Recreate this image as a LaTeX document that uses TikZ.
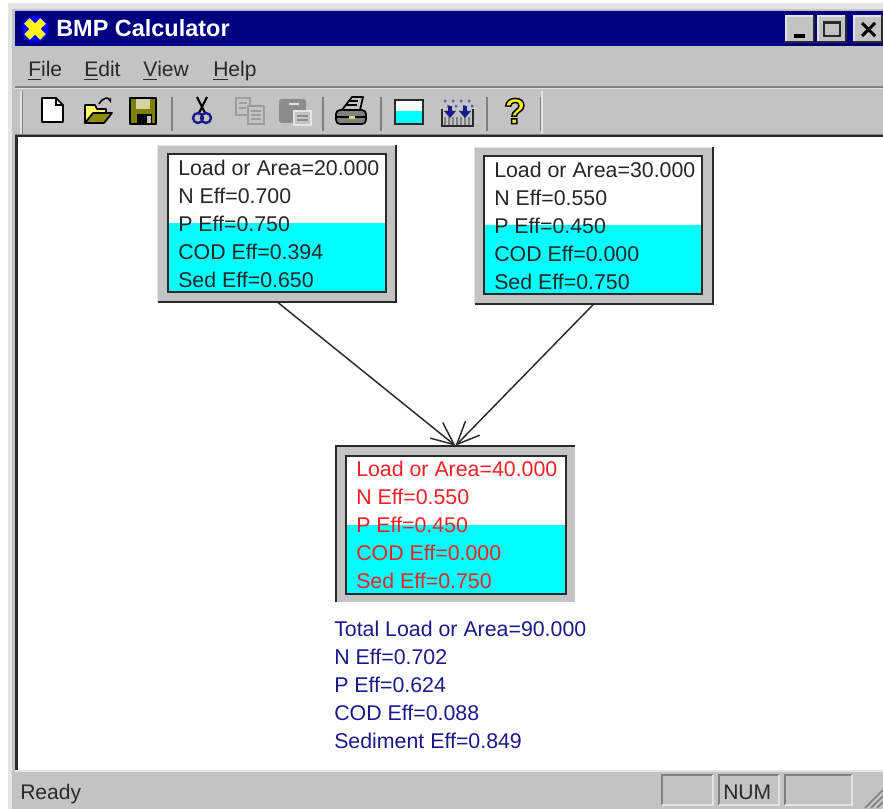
\documentclass[tikz,border=0pt]{standalone}
\usepackage{fontspec}
\setmainfont{Liberation Sans}
\usetikzlibrary{arrows.meta}
\definecolor{wingray}{HTML}{C3C3C3}
\definecolor{winlight}{HTML}{E4E4E4}
\definecolor{windark}{HTML}{808080}
\definecolor{winink}{HTML}{2A2A2A}
\definecolor{navybar}{HTML}{000080}
\definecolor{navytext}{HTML}{1A1A8C}
\definecolor{redtext}{HTML}{F52025}
\definecolor{aqua}{HTML}{00FFFF}
\definecolor{goldicon}{HTML}{FFFF66}
\definecolor{olive}{HTML}{808000}
\definecolor{dimicon}{HTML}{8C8C8C}
\tikzset{
  x=0.75pt,y=-0.75pt,
  lines/.style={anchor=north west,inner sep=0pt,align=left,font=\fontsize{16}{21}\selectfont},
  wintext/.style={anchor=base west,inner sep=0pt,text=winink,font=\fontsize{15.8}{18}\selectfont},
  frame/.style={draw=none,fill=wingray,inner sep=0pt,minimum width=178.5pt,minimum height=117pt},
  sep/.style={draw=windark,line width=1pt},
  link/.style={draw=winink,line width=1.1pt,-{Straight Barb[length=17pt,width=15pt,line width=1.1pt]}},
  winbtn/.style={fill=wingray,draw=none},
  iconline/.style={draw=black,line width=1.3pt,line join=round}
}
\begin{document}
\begin{tikzpicture}
\useasboundingbox (0,0) rectangle (883,809);
% window chrome
\fill[winlight] (8,3) rectangle (883,809);
\fill[wingray] (12,9) rectangle (883,809);
\fill[navybar] (15,11) rectangle (883,46);
\draw[winlight,line width=1pt] (15,88) -- (883,88);
\draw[windark,line width=1pt] (15,87) -- (883,87);
% title bar
\fill[blue] (35,29) circle[radius=13.5];
\draw[yellow!90!white,line width=6pt] (27,21) -- (43,37) (43,21) -- (27,37);
\node[anchor=base west,inner sep=0pt,text=white,font=\bfseries\fontsize{17.6}{20}\selectfont] (title) at (56,37) {BMP Calculator};
% window buttons
\foreach \a/\b in {785/815,817/847,853/883}{
  \fill[winink] (\a,15) rectangle (\b,43);
  \fill[winlight] (\a,15) rectangle (\b-2,41);
  \fill[wingray] (\a+2,17) rectangle (\b-2,41);
}
\draw[black,line width=2.4pt] (794,36) -- (805,36);
\draw[winink,line width=1pt] (824,22) rectangle (840,36);
\draw[winink,line width=2.2pt] (824,23) -- (840,23);
\draw[black,line width=2.2pt] (862,23) -- (875,36) (875,23) -- (862,36);
% menu
\node[wintext] (mfile) at (28,77) {\underline{F}ile};
\node[wintext] (medit) at (84,77) {\underline{E}dit};
\node[wintext] (mview) at (143,77) {\underline{V}iew};
\node[wintext] (mhelp) at (213,77) {\underline{H}elp};
% toolbar
\fill[winlight] (20,91) rectangle (22,134);
\fill[windark] (22,91) rectangle (23,134);
\foreach \x in {172,323,381,487,541}{\draw[sep] (\x,97) -- (\x,131);}
\draw[winlight,line width=1pt] (542,91) -- (542,134);
\draw[windark,line width=1pt] (15,135) -- (883,135);
% new document
\filldraw[fill=white,iconline] (42,98) -- (56,98) -- (63,105) -- (63,122) -- (42,122) -- cycle;
\draw[line width=1pt] (56,98) -- (56,105) -- (63,105);
% open folder
\filldraw[fill=goldicon,iconline] (85,105) -- (95,105) -- (97,109) -- (106,109) -- (106,114) -- (85,123) -- cycle;
\filldraw[fill=olive!90!yellow,iconline] (85,123) -- (93,113) -- (112,113) -- (104,123) -- cycle;
\draw[line width=1.2pt,-{Stealth[length=4pt]}] (99,104) .. controls (103,97) and (109,97) .. (111,103);
% save disk
\filldraw[fill=olive,iconline] (130,98) rectangle (156,124);
\fill[olive!35!white] (136,99) rectangle (150,109);
\fill[black] (137,114) rectangle (152,124);
\fill[wingray] (147,116) rectangle (151,123);
% scissors
\draw[line width=1.6pt,black] (197,97) -- (205,113) (207,97) -- (199,113);
\draw[navytext,line width=1.8pt] (198,118) circle[radius=5] (206,118) circle[radius=5];
% copy (disabled)
\filldraw[fill=wingray,draw=dimicon!70!wingray,line width=1.2pt] (236,98) rectangle (250,115);
\filldraw[fill=wingray,draw=dimicon!70!wingray,line width=1.2pt] (248,106) rectangle (264,124);
\draw[dimicon!70!wingray,line width=1pt] (239,103) -- (247,103) (239,108) -- (246,108) (251,111) -- (261,111) (251,115) -- (261,115) (251,119) -- (261,119);
% paste (disabled)
\fill[dimicon,rounded corners=2pt] (279,99) rectangle (306,123);
\fill[winlight] (289,103) rectangle (299,105);
\filldraw[fill=wingray,draw=winlight,line width=1.2pt] (294,111) rectangle (311,125);
\draw[dimicon,line width=1pt] (297,116) -- (308,116) (297,120) -- (308,120);
% printer
\filldraw[fill=wingray,iconline] (352,97) -- (363,97) -- (360,110) -- (342,110) -- cycle;
\draw[line width=1pt] (348,101) -- (358,101) (346,105) -- (357,105);
\filldraw[fill=windark,iconline,rounded corners=3pt] (336,110) rectangle (366,124);
\draw[line width=1pt] (337,117) -- (365,117);
\fill[goldicon!85!black] (349,116) rectangle (355,119);
% fill box icon
\fill[white] (395,100) rectangle (423,111);
\fill[aqua] (395,111) rectangle (423,124);
\draw[winink,line width=1.4pt] (395,100) rectangle (423,124);
% pour icon
\draw[winink,line width=1.4pt] (442,109) -- (442,126) -- (473,126) -- (473,109);
\foreach \x in {445,449,...,469}{\draw[windark,line width=1pt] (\x,117) -- (\x,125);}
\foreach \x in {444,452,460,468}{\fill[navytext!70!white] (\x,100) rectangle +(2.4,2.4) (\x+3,105) rectangle +(2.4,2.4);}
\foreach \x in {450,465}{
  \fill[navytext] (\x-2,106) rectangle (\x+2,112);
  \fill[navytext] (\x-6,111) -- (\x+6,111) -- (\x,118) -- cycle;
}
% help
\node[inner sep=0pt,text=yellow,font=\bfseries\fontsize{27}{27}\selectfont] (qmark) at (515,111) {\pgfsetlinewidth{1.1pt}\pgfsetstrokecolor{black}\special{pdf:code 2 Tr}?\special{pdf:code 0 Tr}};
% client area
\fill[white] (18,137) rectangle (883,770);
\draw[winink,line width=2.4pt] (16.5,136) -- (16.5,770);
\draw[winink,line width=1.5pt] (15,136.5) -- (883,136.5);
\draw[winlight,line width=1.5pt] (15,771) -- (883,771);
% status bar
\node[wintext] (ready) at (20,799) {Ready};
\foreach \a/\b in {662/713,719/779,785/852}{
  \draw[windark,line width=1pt] (\a,805) -- (\a,775) -- (\b,775);
  \draw[winlight,line width=1pt] (\b,775) -- (\b,805) -- (\a,805);
}
\node[wintext] (numkey) at (723,799) {NUM};
\foreach \d in {0,6,12}{\draw[windark,line width=1.3pt] (865+\d,808) -- (883,790+\d);}
% box 1
\node[frame] (box1) at (277,223.5) {};
\draw[winlight,line width=1pt] (box1.south west) -- (box1.north west) -- (box1.north east);
\draw[winink,line width=1.5pt] (box1.south west) -- (box1.south east) -- (box1.north east);
\fill[white] (168,154) rectangle (386,223);
\fill[aqua] (168,223) rectangle (386,292);
\draw[winink,line width=1.5pt] (168,154) rectangle (386,292);
\node[lines,text=black!85] (text1) at (178,160) {Load or Area=20.000\\N Eff=0.700\\P Eff=0.750\\COD Eff=0.394\\Sed Eff=0.650};
% box 2
\node[frame] (box2) at (594,225.5) {};
\draw[winlight,line width=1pt] (box2.south west) -- (box2.north west) -- (box2.north east);
\draw[winink,line width=1.5pt] (box2.south west) -- (box2.south east) -- (box2.north east);
\fill[white] (484,156) rectangle (702,225);
\fill[aqua] (484,225) rectangle (702,294);
\draw[winink,line width=1.5pt] (484,156) rectangle (702,294);
\node[lines,text=black!85] (text2) at (494,162) {Load or Area=30.000\\N Eff=0.550\\P Eff=0.450\\COD Eff=0.000\\Sed Eff=0.750};
% box 3
\node[frame] (box3) at (455.5,524) {};
\draw[winink,line width=1.5pt] (box3.south west) -- (box3.north west) -- (box3.north east);
\fill[white] (346,456) rectangle (566,525);
\fill[aqua] (346,525) rectangle (566,594);
\draw[winink,line width=1.5pt] (346,456) rectangle (566,594);
\node[lines,text=redtext] (text3) at (356,461) {Load or Area=40.000\\N Eff=0.550\\P Eff=0.450\\COD Eff=0.000\\Sed Eff=0.750};
% connectors
\draw[link] (box1.south) -- (box3.north);
\draw[link] (box2.south) -- (box3.north);
% totals
\node[lines,text=navytext] (totals) at (334,621) {Total Load or Area=90.000\\N Eff=0.702\\P Eff=0.624\\COD Eff=0.088\\Sediment Eff=0.849};
\end{tikzpicture}
\end{document}
